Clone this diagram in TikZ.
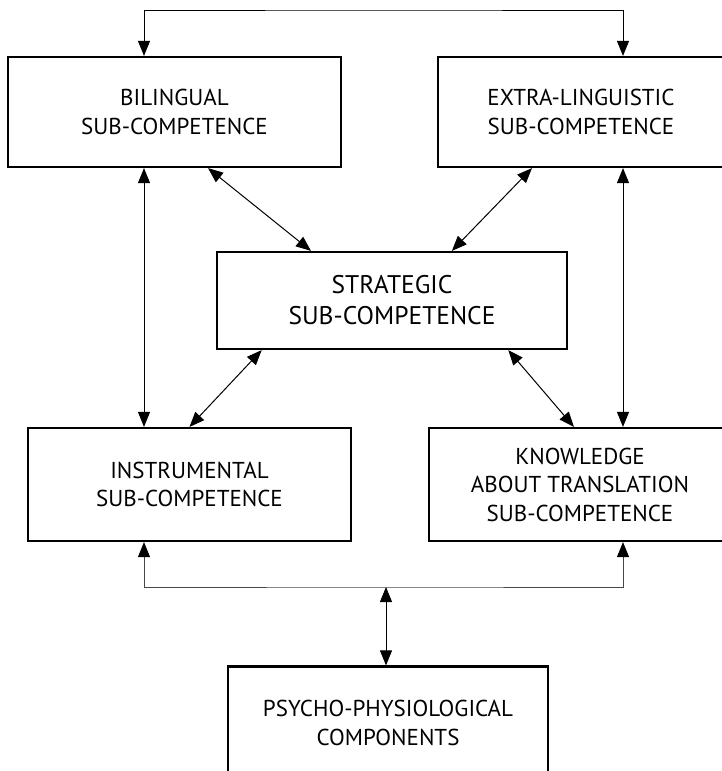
\documentclass[tikz,border=0pt]{standalone}
\usepackage{fontspec}
\setmainfont{PT Sans}
\usetikzlibrary{arrows.meta,calc}
\tikzset{
  compbox/.style={draw, line width=2.2pt, align=center, inner sep=0pt,
    font=\fontsize{23}{28.5}\selectfont},
  link/.style={line width=1pt, {Triangle[length=15pt,width=12pt,color=black]}-{Triangle[length=15pt,width=12pt,color=black]}}
}
\begin{document}
\begin{tikzpicture}[x=1pt,y=-1pt]
\useasboundingbox (0,0) rectangle (722,771);
\node[compbox, minimum width=333pt, minimum height=110pt] (bil) at (174.5,112) {BILINGUAL\\SUB-COMPETENCE};
\node[compbox, minimum width=286pt, minimum height=110pt] (ext) at (581,112) {EXTRA-LINGUISTIC\\SUB-COMPETENCE};
\node[compbox, minimum width=350pt, minimum height=97pt, font=\fontsize{25.5}{31}\selectfont] (str) at (392,300.5) {STRATEGIC\\SUB-COMPETENCE};
\node[compbox, minimum width=323pt, minimum height=113pt] (ins) at (189.5,484.5) {INSTRUMENTAL\\SUB-COMPETENCE};
\node[compbox, minimum width=302pt, minimum height=113pt] (kno) at (580,484.5) {KNOWLEDGE\\ABOUT TRANSLATION\\SUB-COMPETENCE};
\node[compbox, minimum width=320pt, minimum height=113pt] (psy) at (388,723) {PSYCHO-PHYSIOLOGICAL\\COMPONENTS};
\coordinate (lcol) at (144,0);
\coordinate (rcol) at (623,0);
\coordinate (topmid) at (383.5,10);
\coordinate (botmid) at (386,587);
\draw[link] (bil.north -| lcol) |- (topmid) -| (ext.north -| rcol);
\draw[link, draw=black!72] (ins.south -| lcol) |- (botmid) -| (kno.south -| rcol);
\draw[link] (botmid) -- (psy.north -| botmid);
\draw[link] (bil.south -| lcol) -- (ins.north -| lcol);
\draw[link] (ext.south -| rcol) -- (kno.north -| rcol);
\draw[link] ($(bil.south west)!0.6!(bil.south east)$) -- ($(str.north west)!0.27!(str.north east)$);
\draw[link] ($(ext.south west)!0.33!(ext.south east)$) -- ($(str.north west)!0.67!(str.north east)$);
\draw[link] ($(str.south west)!0.13!(str.south east)$) -- (ins.north);
\draw[link] ($(str.south west)!0.83!(str.south east)$) -- ($(kno.north west)!0.48!(kno.north east)$);
\end{tikzpicture}
\end{document}
